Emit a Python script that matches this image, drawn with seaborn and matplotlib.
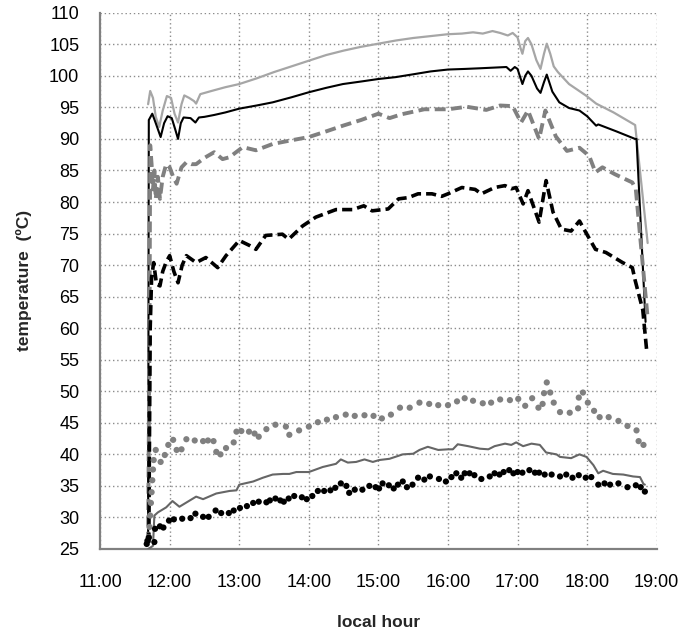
import numpy as np
import pandas as pd
import matplotlib
matplotlib.use("Agg")
import matplotlib.pyplot as plt
import seaborn as sns

# ---------------- data ----------------
hour_ticks = [11, 12, 13, 14, 15, 16, 17, 18, 19]
hour_labels = ["11:00", "12:00", "13:00", "14:00", "15:00", "16:00", "17:00", "18:00", "19:00"]
temp_ticks = list(range(25, 111, 5))

# light gray solid (top)
lg_t = [11.69, 11.72, 11.76, 11.80, 11.85, 11.90, 11.96, 12.02, 12.07, 12.12, 12.17, 12.21, 12.28, 12.35,
        12.38, 12.44, 12.6, 12.8, 13.0, 13.25, 13.5, 13.75, 14.0, 14.25, 14.5, 14.75, 15.0, 15.25, 15.5,
        15.75, 16.0, 16.2, 16.36, 16.5, 16.64, 16.75, 16.86, 16.93, 17.0, 17.04, 17.07, 17.11, 17.15, 17.2,
        17.27, 17.33, 17.38, 17.42, 17.47, 17.52, 17.58, 17.74, 17.98, 18.13, 18.38, 18.69, 18.87]
lg_v = [95.5, 97.6, 96.5, 93.5, 91.9, 94.5, 96.8, 96.5, 94.0, 92.6, 95.5, 96.9, 96.5, 96.0,
        95.6, 97.1, 97.6, 98.2, 98.7, 99.6, 100.6, 101.5, 102.4, 103.3, 104.0, 104.6, 105.1, 105.6, 106.0,
        106.3, 106.6, 106.7, 106.9, 106.7, 107.1, 106.8, 106.4, 106.8, 106.1, 104.5, 103.5, 105.5, 106.0, 105.0,
        102.5, 101.1, 103.5, 105.1, 103.5, 101.5, 100.6, 98.7, 96.9, 95.6, 94.2, 92.2, 73.5]

# black solid
bk_t = [11.69, 11.70, 11.75, 11.80, 11.87, 11.92, 11.97, 12.03, 12.08, 12.12, 12.16, 12.2, 12.3, 12.37,
        12.42, 12.5, 12.64, 12.8, 13.0, 13.25, 13.48, 13.75, 14.0, 14.25, 14.49, 14.75, 15.0, 15.25, 15.53,
        15.75, 16.0, 16.25, 16.46, 16.65, 16.84, 16.9, 16.96, 17.0, 17.07, 17.11, 17.15, 17.2, 17.28, 17.33,
        17.38, 17.42, 17.5, 17.6, 17.74, 17.89, 18.0, 18.13, 18.16, 18.42, 18.69, 18.71, 18.84]
bk_v = [26.0, 93.0, 94.0, 92.5, 90.3, 92.5, 93.6, 93.3, 91.5, 90.0, 92.5, 93.4, 93.3, 92.6,
        93.4, 93.5, 93.8, 94.2, 94.8, 95.3, 95.8, 96.6, 97.4, 98.1, 98.7, 99.1, 99.5, 99.8, 100.3,
        100.7, 101.0, 101.1, 101.2, 101.3, 101.4, 100.8, 101.4, 101.1, 98.7, 100.0, 100.7, 100.0, 98.0, 97.3,
        99.0, 100.2, 97.5, 95.8, 94.9, 94.5, 93.6, 92.1, 92.3, 91.2, 90.0, 90.0, 61.0]

# gray dashed
gd_t = [11.69, 11.71, 11.72, 11.74, 11.76, 11.78, 11.80, 11.83, 11.86, 11.9, 11.95, 12.0, 12.05, 12.1,
        12.17, 12.24, 12.31, 12.38, 12.5, 12.64, 12.76, 12.86, 13.05, 13.24, 13.48, 13.71, 14.0, 14.25,
        14.49, 14.75, 15.0, 15.16, 15.33, 15.66, 16.0, 16.27, 16.55, 16.75, 16.93, 17.05, 17.15, 17.31,
        17.4, 17.55, 17.71, 17.89, 18.03, 18.12, 18.22, 18.4, 18.65, 18.70, 18.87]
gd_v = [26.0, 60.0, 89.0, 86.0, 82.0, 85.0, 80.5, 84.0, 80.5, 84.0, 86.0, 85.5, 84.0, 82.9,
        85.5, 86.3, 86.0, 86.0, 87.0, 87.9, 86.8, 87.1, 88.7, 88.2, 89.2, 89.7, 90.3, 91.2,
        92.1, 93.0, 94.0, 93.3, 93.9, 94.7, 94.7, 95.1, 94.6, 95.3, 95.2, 92.6, 94.5, 90.0,
        94.5, 90.4, 88.1, 88.6, 87.3, 84.7, 85.5, 84.4, 83.1, 82.0, 61.6]

# black dashed
bd_t = [11.70, 11.72, 11.74, 11.77, 11.81, 11.86, 11.9, 11.95, 12.0, 12.06, 12.12, 12.18, 12.24, 12.38,
        12.52, 12.69, 12.81, 13.0, 13.15, 13.24, 13.38, 13.62, 13.71, 13.91, 14.1, 14.39, 14.63, 14.79,
        14.91, 15.06, 15.14, 15.29, 15.43, 15.57, 15.77, 15.91, 16.0, 16.2, 16.39, 16.48, 16.67, 16.82,
        16.91, 16.98, 17.08, 17.15, 17.31, 17.41, 17.51, 17.63, 17.77, 17.89, 17.98, 18.12, 18.27, 18.51,
        18.65, 18.69, 18.8, 18.86]
bd_v = [26.0, 60.0, 68.0, 70.4, 67.0, 66.7, 69.0, 70.5, 71.5, 69.0, 67.2, 70.0, 71.5, 70.4,
        71.2, 69.6, 71.5, 73.9, 73.1, 72.5, 74.7, 74.9, 74.1, 76.2, 77.6, 78.8, 78.8, 79.4,
        78.6, 78.8, 78.9, 80.5, 80.7, 81.3, 81.3, 80.9, 81.3, 82.3, 82.0, 81.3, 82.3, 82.6,
        82.1, 82.3, 79.7, 81.8, 76.8, 83.4, 78.4, 75.7, 75.4, 77.0, 75.2, 72.5, 72.0, 70.4,
        69.6, 67.6, 62.9, 56.0]

# gray dotted
gp_t = [11.70, 11.71, 11.72, 11.73, 11.74, 11.75, 11.76, 11.77, 11.8, 11.87, 11.93, 11.98, 12.05, 12.1,
        12.17, 12.24, 12.36, 12.48, 12.55, 12.63, 12.67, 12.73, 12.81, 12.92, 12.96, 13.03, 13.14, 13.22,
        13.28, 13.39, 13.52, 13.67, 13.72, 13.86, 14.0, 14.13, 14.26, 14.39, 14.53, 14.66, 14.8, 14.93,
        15.05, 15.18, 15.31, 15.45, 15.59, 15.73, 15.86, 16.0, 16.13, 16.24, 16.36, 16.5, 16.62, 16.75,
        16.89, 17.01, 17.11, 17.21, 17.3, 17.36, 17.38, 17.42, 17.47, 17.52, 17.61, 17.75, 17.87, 17.88,
        17.94, 18.01, 18.1, 18.18, 18.31, 18.45, 18.58, 18.71, 18.74, 18.81]
gp_v = [26.9, 28.5, 30.3, 32.3, 34.0, 35.9, 37.6, 39.1, 40.7, 38.8, 39.9, 41.5, 42.3, 40.7,
        40.8, 42.4, 42.2, 42.1, 42.2, 42.1, 40.4, 40.0, 41.0, 41.9, 43.6, 43.7, 43.6, 43.3,
        42.8, 44.0, 44.7, 44.4, 43.1, 43.8, 44.4, 45.1, 45.5, 45.9, 46.3, 46.1, 46.2, 46.1,
        45.7, 46.3, 47.4, 47.4, 48.2, 48.0, 47.8, 47.8, 48.4, 48.9, 48.5, 48.1, 48.2, 48.7,
        48.6, 48.8, 47.7, 48.9, 47.4, 48.0, 49.7, 51.4, 49.8, 48.2, 46.7, 46.6, 47.3, 49.0,
        49.8, 48.2, 46.9, 45.9, 45.9, 45.3, 44.5, 43.8, 42.1, 41.5]

# dark gray solid
dg_t = [11.69, 11.72, 11.76, 11.78, 11.83, 11.95, 12.04, 12.14, 12.38, 12.48, 12.67, 12.86, 12.96, 13.0,
        13.2, 13.34, 13.48, 13.63, 13.72, 13.82, 14.0, 14.2, 14.39, 14.46, 14.56, 14.68, 14.8, 14.92,
        15.01, 15.16, 15.35, 15.5, 15.59, 15.71, 15.86, 16.0, 16.07, 16.14, 16.29, 16.46, 16.58, 16.67,
        16.82, 16.91, 16.98, 17.08, 17.2, 17.32, 17.41, 17.56, 17.61, 17.77, 17.89, 17.99, 18.09, 18.16,
        18.23, 18.37, 18.52, 18.66, 18.76, 18.81, 18.83]
dg_v = [25.0, 25.2, 25.5, 30.3, 30.8, 31.6, 32.6, 31.7, 33.3, 32.9, 33.8, 34.2, 34.3, 35.2,
        35.7, 36.3, 36.8, 36.9, 36.9, 37.2, 37.2, 38.0, 38.5, 39.2, 38.7, 38.8, 39.2, 38.8,
        39.1, 39.3, 40.0, 40.1, 40.7, 41.2, 40.7, 40.8, 40.8, 41.6, 41.3, 40.9, 40.8, 41.3,
        41.7, 41.5, 41.9, 41.3, 41.7, 41.5, 40.3, 40.0, 39.6, 39.4, 40.0, 39.6, 38.3, 37.0,
        37.4, 36.9, 36.8, 36.5, 36.4, 35.3, 35.2]

# black dotted
kp_t = [11.67, 11.68, 11.70, 11.78, 11.79, 11.86, 11.91, 11.99, 12.06, 12.18, 12.3, 12.37, 12.48, 12.56,
        12.66, 12.74, 12.85, 12.92, 13.01, 13.11, 13.2, 13.28, 13.39, 13.44, 13.52, 13.59, 13.64, 13.71,
        13.79, 13.9, 13.97, 14.05, 14.13, 14.22, 14.31, 14.38, 14.46, 14.54, 14.58, 14.66, 14.77, 14.87,
        14.96, 15.01, 15.06, 15.15, 15.22, 15.28, 15.35, 15.41, 15.49, 15.57, 15.66, 15.74, 15.87, 15.97,
        16.05, 16.12, 16.19, 16.24, 16.31, 16.38, 16.48, 16.6, 16.67, 16.74, 16.8, 16.88, 16.94, 17.0,
        17.07, 17.17, 17.25, 17.31, 17.39, 17.49, 17.61, 17.7, 17.79, 17.88, 17.98, 18.06, 18.16, 18.25,
        18.33, 18.45, 18.58, 18.7, 18.77, 18.83]
kp_v = [25.8, 26.3, 26.8, 26.1, 28.2, 28.6, 28.4, 29.5, 29.7, 29.8, 29.9, 30.6, 30.1, 30.1,
        31.1, 30.7, 30.7, 31.1, 31.5, 31.8, 32.3, 32.5, 32.4, 32.7, 33.0, 32.7, 32.5, 33.0,
        33.4, 33.2, 32.9, 33.4, 34.2, 34.2, 34.3, 34.7, 35.4, 35.0, 33.9, 34.4, 34.4, 35.0,
        34.8, 34.6, 35.4, 35.1, 34.6, 35.2, 35.7, 34.8, 35.2, 36.3, 36.0, 36.5, 36.1, 35.7,
        36.4, 37.0, 36.3, 37.0, 37.0, 36.7, 36.1, 36.5, 37.0, 36.8, 37.2, 37.5, 37.0, 37.2,
        37.1, 37.5, 37.1, 37.1, 36.8, 36.8, 36.5, 36.8, 36.3, 36.7, 36.3, 36.4, 35.2, 35.4,
        35.2, 35.4, 34.8, 35.1, 34.8, 34.1]

# ---------------- plot ----------------
sns.set_style("white")
plt.rcParams["font.family"] = ["Liberation Sans", "DejaVu Sans"]

fig = plt.figure(figsize=(6.88, 6.38), dpi=100)
ax = fig.add_axes([0.1455, 0.1395, 0.809, 0.8405])

dash = (0, (2.8, 1.4))

sns.lineplot(x=lg_t, y=lg_v, ax=ax, sort=False, estimator=None, color="#a6a6a6", lw=1.6, zorder=3)
sns.lineplot(x=bk_t, y=bk_v, ax=ax, sort=False, estimator=None, color="#000000", lw=1.5, zorder=3)
sns.lineplot(x=gd_t, y=gd_v, ax=ax, sort=False, estimator=None, color="#808080", lw=2.8,
             linestyle=dash, zorder=3)
sns.lineplot(x=bd_t, y=bd_v, ax=ax, sort=False, estimator=None, color="#000000", lw=2.6,
             linestyle=dash, zorder=3)
sns.lineplot(x=dg_t, y=dg_v, ax=ax, sort=False, estimator=None, color="#666666", lw=1.5, zorder=3)
sns.scatterplot(x=gp_t, y=gp_v, ax=ax, color="#808080", s=20, edgecolor="none", zorder=4)
sns.scatterplot(x=kp_t, y=kp_v, ax=ax, color="#000000", s=20, edgecolor="none", zorder=4)

ax.set_xlim(11, 19)
ax.set_ylim(25, 110)
ax.set_xticks(hour_ticks)
ax.set_xticklabels(hour_labels)
ax.set_yticks(temp_ticks)
ax.set_yticklabels([str(v) for v in temp_ticks])

ax.grid(True, color="#8c8c8c", linestyle=(0, (1, 2)), linewidth=1.0, zorder=0)
for side in ["top", "right"]:
    ax.spines[side].set_visible(False)
for side in ["left", "bottom"]:
    ax.spines[side].set_color("#808080")
    ax.spines[side].set_linewidth(1.6)

ax.tick_params(axis="both", which="major", direction="out", length=6, width=1.2,
               color="#808080", labelsize=13, labelcolor="#000000", pad=9)
ax.tick_params(axis="x", pad=12)

ax.set_xlabel("local hour", fontsize=12.5, fontweight="bold", labelpad=17)
ax.set_ylabel("temperature  (ºC)", fontsize=12.5, fontweight="bold", labelpad=12)

fig.savefig("out.png", dpi=100)
